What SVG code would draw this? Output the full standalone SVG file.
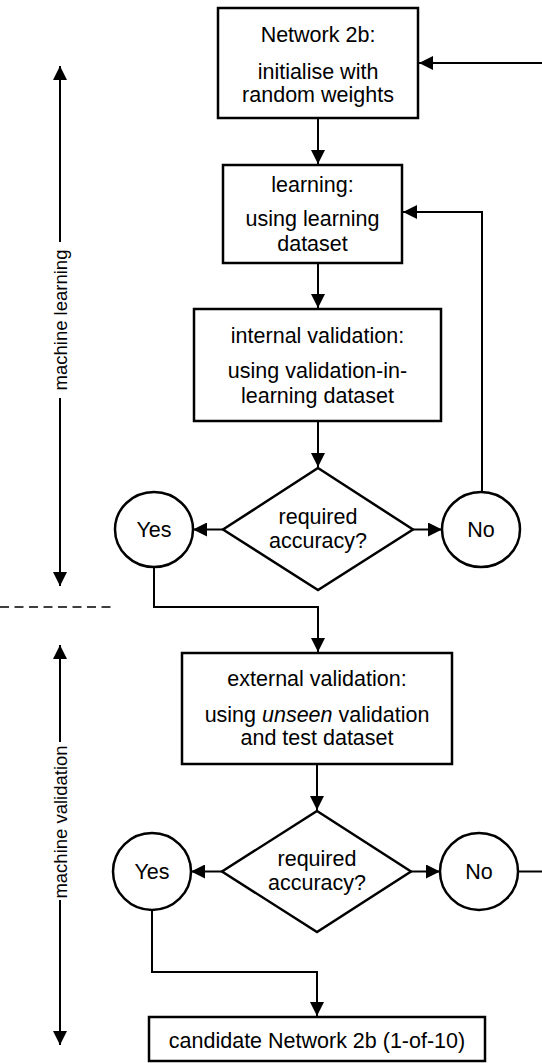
<svg xmlns="http://www.w3.org/2000/svg" width="542" height="1063" viewBox="0 0 542 1063">
  <style>
    .shape { fill: #fff; stroke: #000; stroke-width: 2.5; }
    .conn { fill: none; stroke: #000; stroke-width: 2; }
    .lbl { font-family: "Liberation Sans", Arial, Helvetica, sans-serif; font-size: 21.5px; fill: #000; text-anchor: middle; }
    .side { font-family: "Liberation Sans", Arial, Helvetica, sans-serif; font-size: 18.5px; fill: #000; text-anchor: middle; }
  </style>
  <defs>
    <marker id="arrow" viewBox="0 0 14 14" refX="14" refY="7" markerWidth="14" markerHeight="14" markerUnits="userSpaceOnUse" orient="auto-start-reverse">
      <path d="M0,0 L14,7 L0,14 z" fill="#000"/>
    </marker>
  </defs>
  <rect width="542" height="1063" fill="#fff"/>

  <!-- phase indicators on the left -->
  <g id="phase-learning">
    <line class="conn" x1="60" y1="66" x2="60" y2="242" marker-start="url(#arrow)"/>
    <line class="conn" x1="60" y1="398" x2="60" y2="586" marker-end="url(#arrow)"/>
    <text class="side" transform="translate(67 320) rotate(-90)">machine learning</text>
  </g>
  <g id="phase-separator">
    <line x1="0" y1="607" x2="116" y2="607" stroke="#000" stroke-width="1.5" stroke-dasharray="9 5.5"/>
  </g>
  <g id="phase-validation">
    <line class="conn" x1="60" y1="645" x2="60" y2="742" marker-start="url(#arrow)"/>
    <line class="conn" x1="60" y1="900" x2="60" y2="1045" marker-end="url(#arrow)"/>
    <text class="side" transform="translate(67 822) rotate(-90)">machine validation</text>
  </g>

  <!-- connectors -->
  <g id="connectors">
    <line class="conn" x1="318" y1="119" x2="318" y2="164" marker-end="url(#arrow)"/>
    <line class="conn" x1="542" y1="63" x2="419" y2="63" marker-end="url(#arrow)"/>
    <line class="conn" x1="318" y1="264" x2="318" y2="308" marker-end="url(#arrow)"/>
    <line class="conn" x1="318" y1="422" x2="318" y2="467" marker-end="url(#arrow)"/>
    <line class="conn" x1="223" y1="529.5" x2="193" y2="529.5" marker-end="url(#arrow)"/>
    <line class="conn" x1="413" y1="529.5" x2="442" y2="529.5" marker-end="url(#arrow)"/>
    <polyline class="conn" points="482,491 482,212 403,212" marker-end="url(#arrow)"/>
    <polyline class="conn" points="154,567 154,607 318,607 318,652" marker-end="url(#arrow)"/>
    <line class="conn" x1="317" y1="765" x2="317" y2="810" marker-end="url(#arrow)"/>
    <line class="conn" x1="222" y1="871.5" x2="191" y2="871.5" marker-end="url(#arrow)"/>
    <line class="conn" x1="411" y1="871.5" x2="440" y2="871.5" marker-end="url(#arrow)"/>
    <line class="conn" x1="518" y1="871.5" x2="542" y2="871.5"/>
    <polyline class="conn" points="152,910 152,972 317,972 317,1016" marker-end="url(#arrow)"/>
  </g>

  <!-- nodes -->
  <g id="init">
    <rect class="shape" x="218" y="8" width="200" height="110"/>
    <text class="lbl" x="318" y="42">Network 2b:</text>
    <text class="lbl" x="318" y="79">initialise with</text>
    <text class="lbl" x="318" y="101.5">random weights</text>
  </g>
  <g id="learning">
    <rect class="shape" x="223" y="165" width="179" height="98"/>
    <text class="lbl" x="312.5" y="192">learning:</text>
    <text class="lbl" x="312.5" y="226">using learning</text>
    <text class="lbl" x="312.5" y="251">dataset</text>
  </g>
  <g id="internal-validation">
    <rect class="shape" x="194" y="309" width="247" height="112"/>
    <text class="lbl" x="317.5" y="343">internal validation:</text>
    <text class="lbl" x="317.5" y="378">using validation-in-</text>
    <text class="lbl" x="317.5" y="402.5">learning dataset</text>
  </g>
  <g id="decision-1">
    <polygon class="shape" points="318,468 413,529.5 318,590 223,529.5"/>
    <text class="lbl" x="318" y="524">required</text>
    <text class="lbl" x="318" y="548">accuracy?</text>
  </g>
  <g id="yes-1">
    <ellipse class="shape" cx="154" cy="529.5" rx="39" ry="37.5"/>
    <text class="lbl" x="154" y="536.5">Yes</text>
  </g>
  <g id="no-1">
    <ellipse class="shape" cx="481" cy="529.5" rx="39" ry="37.5"/>
    <text class="lbl" x="481" y="536.5">No</text>
  </g>
  <g id="external-validation">
    <rect class="shape" x="182" y="653" width="270" height="111"/>
    <text class="lbl" x="317" y="685.5">external validation:</text>
    <text class="lbl" x="317" y="721.5">using <tspan font-style="italic">unseen</tspan> validation</text>
    <text class="lbl" x="317" y="745">and test dataset</text>
  </g>
  <g id="decision-2">
    <polygon class="shape" points="317,811 411,871.5 317,932 222,871.5"/>
    <text class="lbl" x="317" y="866">required</text>
    <text class="lbl" x="317" y="890">accuracy?</text>
  </g>
  <g id="yes-2">
    <ellipse class="shape" cx="152" cy="871.5" rx="39" ry="38.5"/>
    <text class="lbl" x="152" y="878.5">Yes</text>
  </g>
  <g id="no-2">
    <ellipse class="shape" cx="479" cy="871.5" rx="39" ry="38.5"/>
    <text class="lbl" x="479" y="878.5">No</text>
  </g>
  <g id="candidate">
    <rect class="shape" x="149" y="1017" width="336" height="44"/>
    <text class="lbl" x="317" y="1047.5">candidate Network 2b (1-of-10)</text>
  </g>
</svg>
